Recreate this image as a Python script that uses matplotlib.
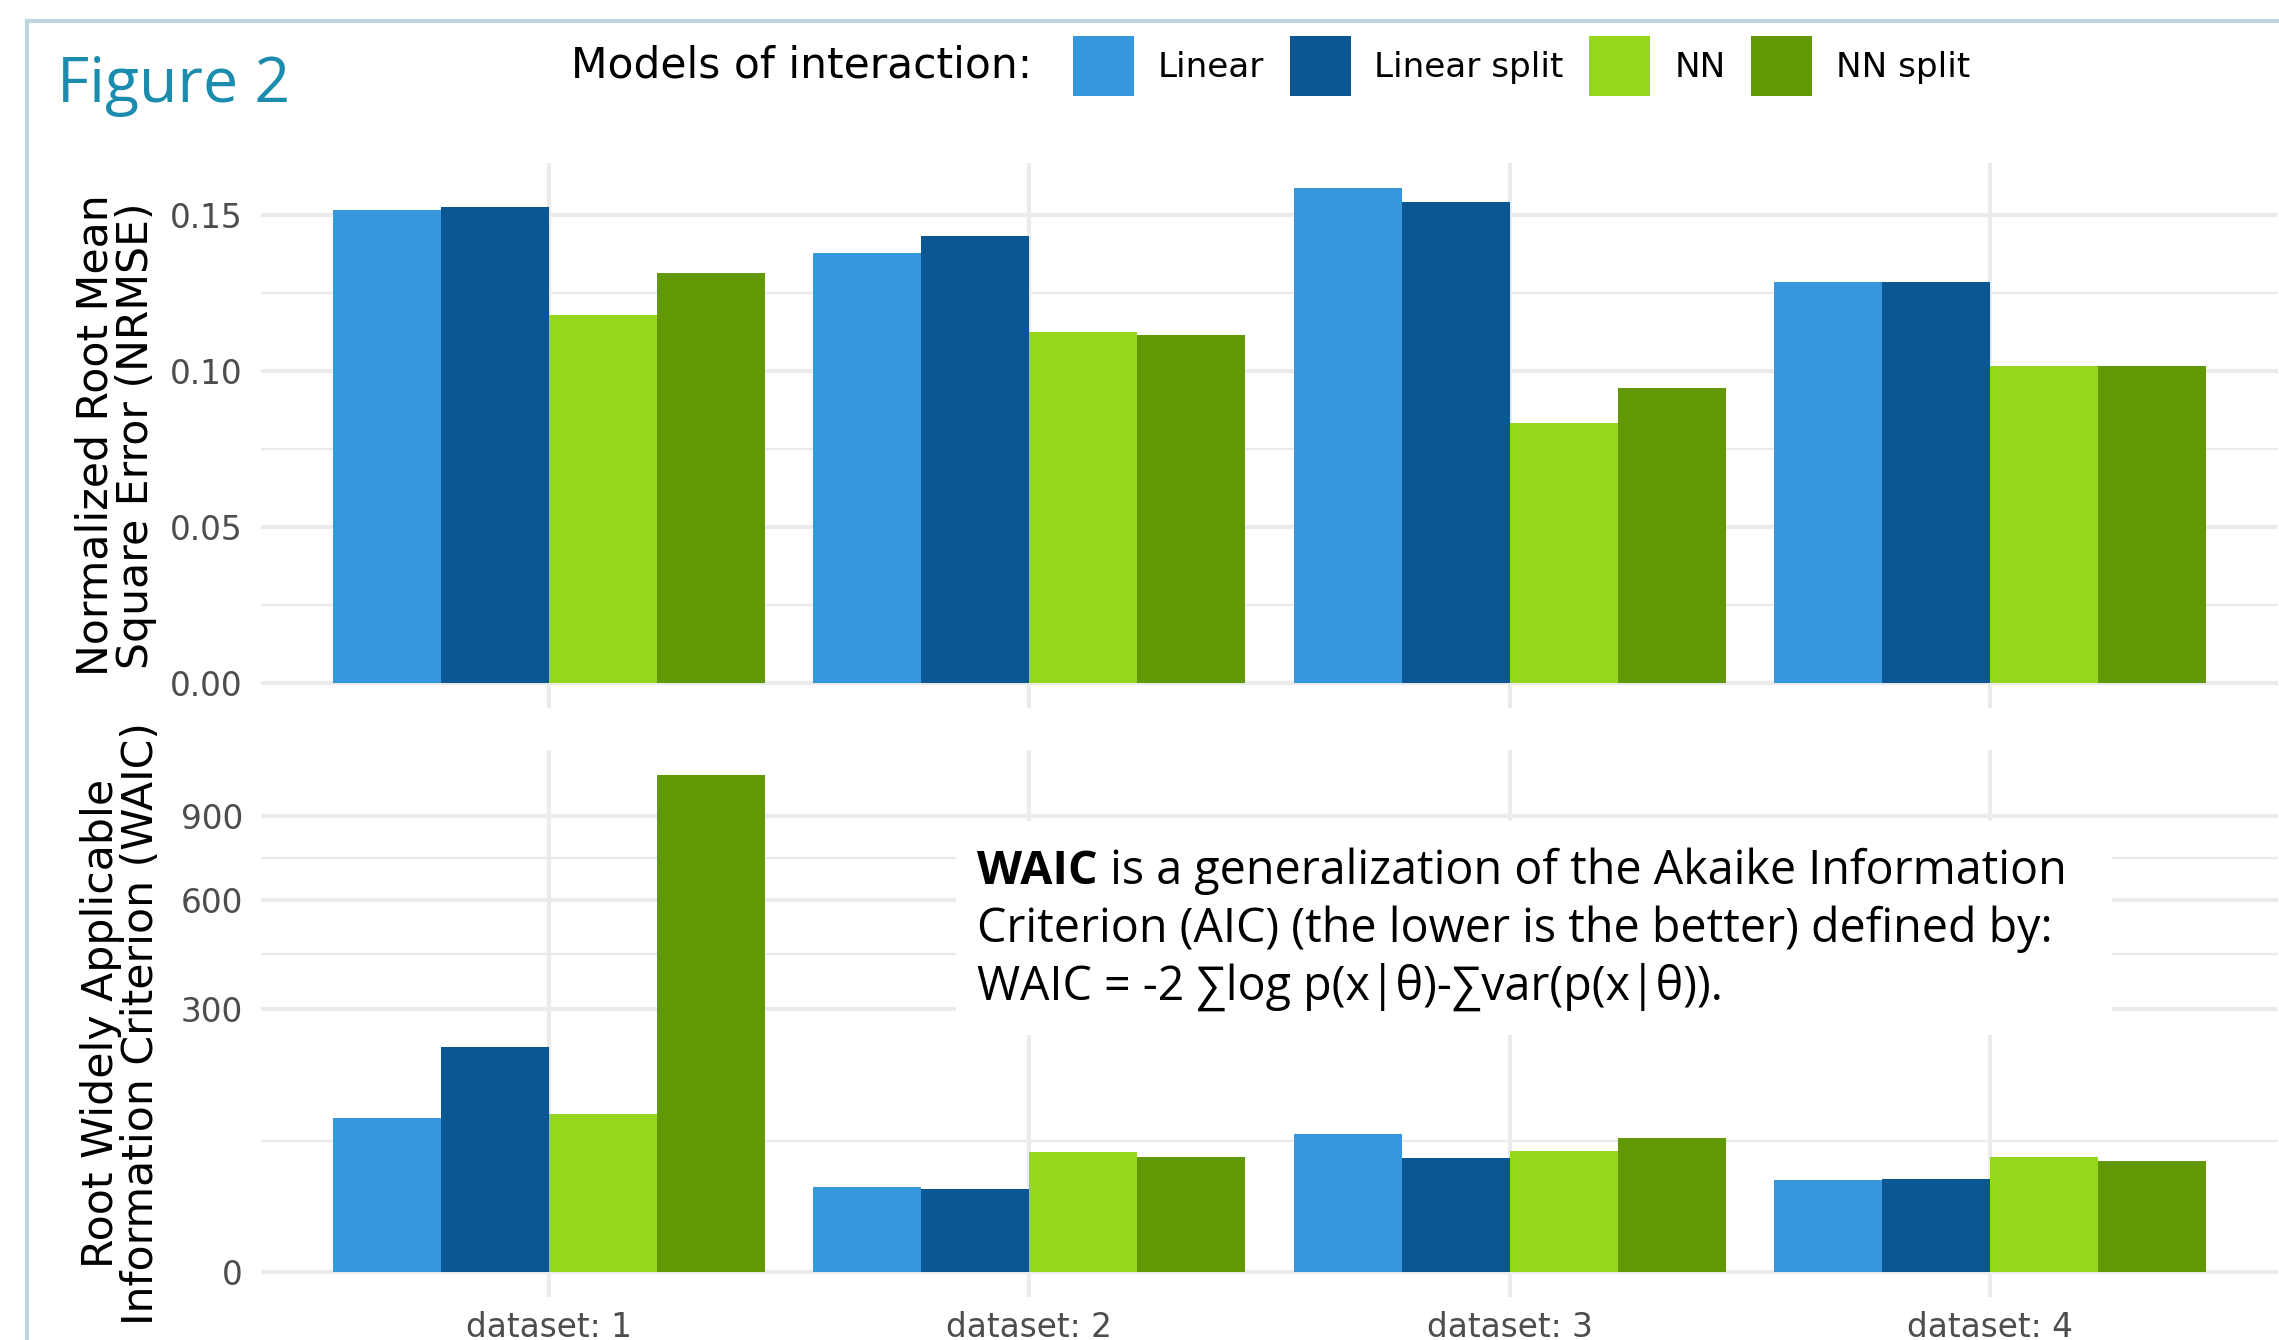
import numpy as np
import matplotlib
matplotlib.use("Agg")
import matplotlib.pyplot as plt
from matplotlib.patches import Rectangle
from matplotlib.lines import Line2D
from matplotlib.text import Annotation
from matplotlib.ticker import FixedLocator, MultipleLocator

# model results per dataset
datasets = ["dataset: 1", "dataset: 2", "dataset: 3", "dataset: 4"]
models = ["Linear", "Linear split", "NN", "NN split"]
colors = ["#3797dd", "#0a5793", "#94d71c", "#629806"]

nrmse = {
    "Linear":       [0.1517, 0.1378, 0.1588, 0.1287],
    "Linear split": [0.1527, 0.1434, 0.1544, 0.1287],
    "NN":           [0.1181, 0.1127, 0.0833, 0.1017],
    "NN split":     [0.1314, 0.1117, 0.0945, 0.1017],
}
waic = {
    "Linear":       [103, 31.4, 83.2, 36.8],
    "Linear split": [219, 30.0, 56.6, 37.7],
    "NN":           [108, 62.4, 63.5, 57.0],
    "NN split":     [1071, 57.0, 77.8, 53.8],
}
waic_breaks = [0, 300, 600, 900]

W, H = 2279, 1340
grey_txt = "#4d4d4d"
grid_col = "#ebebeb"
box_font = ["Open Sans", "DejaVu Sans"]


def fx(px):
    return px / W


def fy(py):
    return 1 - py / H


def sqrt_fwd(v):
    v = np.asarray(v, dtype=float)
    return np.sign(v) * np.sqrt(np.abs(v))


def sqrt_inv(v):
    v = np.asarray(v, dtype=float)
    return np.sign(v) * v ** 2


fig = plt.figure(figsize=(W / 100, H / 100), dpi=100)
ax1 = fig.add_axes([fx(261), fy(708), fx(2278 - 261), (708 - 163) / H])
ax2 = fig.add_axes([fx(261), fy(1297), fx(2278 - 261), (1297 - 750) / H])

x = np.arange(1, len(datasets) + 1)
bw = 0.9 / len(models)
offsets = (np.arange(len(models)) - (len(models) - 1) / 2) * bw

handles = []
for i, m in enumerate(models):
    b = ax1.bar(x + offsets[i], nrmse[m], width=bw, color=colors[i], linewidth=0, zorder=2)
    ax2.bar(x + offsets[i], waic[m], width=bw, color=colors[i], linewidth=0, zorder=2)
    handles.append(b)

for ax in (ax1, ax2):
    ax.set_xlim(0.4, len(datasets) + 0.6)
    for s in ax.spines.values():
        s.set_visible(False)
    ax.set_axisbelow(True)
    ax.grid(which="major", color=grid_col, lw=3.0)
    ax.grid(which="minor", axis="y", color=grid_col, lw=1.7)
    ax.tick_params(which="both", length=0, labelsize=23.6, labelcolor=grey_txt, pad=13)
    ax.set_xticks(x)

# top panel: NRMSE, linear scale
top_max = max(max(v) for v in nrmse.values())
ax1.set_ylim(-0.05 * top_max, 1.05 * top_max)
ax1.yaxis.set_major_locator(MultipleLocator(0.05))
ax1.yaxis.set_minor_locator(MultipleLocator(0.025))
ax1.yaxis.set_major_formatter(lambda v, p: f"{v:.2f}")
ax1.set_xticklabels([])

# bottom panel: WAIC on a square-root scale
ax2.set_yscale("function", functions=(sqrt_fwd, sqrt_inv))
bot_max = np.sqrt(max(max(v) for v in waic.values()))
ax2.set_ylim(-(0.05 * bot_max) ** 2, (1.05 * bot_max) ** 2)
ax2.yaxis.set_major_locator(FixedLocator(waic_breaks))
sb = np.sqrt(waic_breaks)
ax2.yaxis.set_minor_locator(FixedLocator(((sb[:-1] + sb[1:]) / 2) ** 2))
ax2.yaxis.set_major_formatter(lambda v, p: f"{v:.0f}")
ax2.set_xticklabels(datasets)
ax2.tick_params(axis="x", pad=10)

ax1.set_ylabel("Normalized Root Mean\nSquare Error (NRMSE)", fontsize=30.7, linespacing=0.95)
ax2.set_ylabel("Root Widely Applicable\nInformation Criterion (WAIC)", fontsize=30.7, linespacing=0.95)
ax1.yaxis.set_label_coords((157 - 261) / (2278 - 261), 0.5)
ax2.yaxis.set_label_coords((162 - 261) / (2278 - 261), 0.5)

# legend across the top
fig.text(fx(571), fy(66), "Models of interaction:", fontsize=30.5, va="center", ha="left")
fig.legend(handles, models, loc="center left", bbox_to_anchor=(fx(1073), fy(66)),
           ncol=4, frameon=False, fontsize=24.6, borderpad=0, borderaxespad=0,
           handlelength=1.78, handleheight=2.32, handletextpad=0.7, columnspacing=0.75)

# title and outer frame
fig.text(fx(57), fy(102), "Figure 2", fontsize=45, color="#1b8cad", family=box_font,
         va="baseline", ha="left")
fig.add_artist(Line2D([fx(27), 1], [fy(21), fy(21)], color="#bbd6de", lw=3, transform=fig.transFigure))
fig.add_artist(Line2D([fx(27), fx(27)], [fy(21), 0], color="#bbd6de", lw=3, transform=fig.transFigure))

# WAIC explanation box
fig.add_artist(Rectangle((fx(956), fy(1035)), fx(2112 - 956), (1035 - 821) / H,
                         transform=fig.transFigure, facecolor="white", edgecolor="none", zorder=3))
box_fs = 33.6
t0 = fig.text(fx(977), fy(884), "WAIC", fontsize=box_fs, family=box_font, weight="bold",
              va="baseline", ha="left", zorder=4)
fig.add_artist(Annotation(" is a generalization of the Akaike Information", xy=(1, 0),
                          xycoords=t0, fontsize=box_fs, family=box_font, va="bottom",
                          ha="left", zorder=4))
fig.text(fx(977), fy(942), "Criterion (AIC) (the lower is the better) defined by:",
         fontsize=box_fs, family=box_font, va="baseline", ha="left", zorder=4)
fig.text(fx(977), fy(1000), "WAIC = -2 \u2211log p(x|\u03b8)-\u2211var(p(x|\u03b8)).",
         fontsize=box_fs, family=box_font, va="baseline", ha="left", zorder=4)

fig.savefig("out.png", dpi=100)
